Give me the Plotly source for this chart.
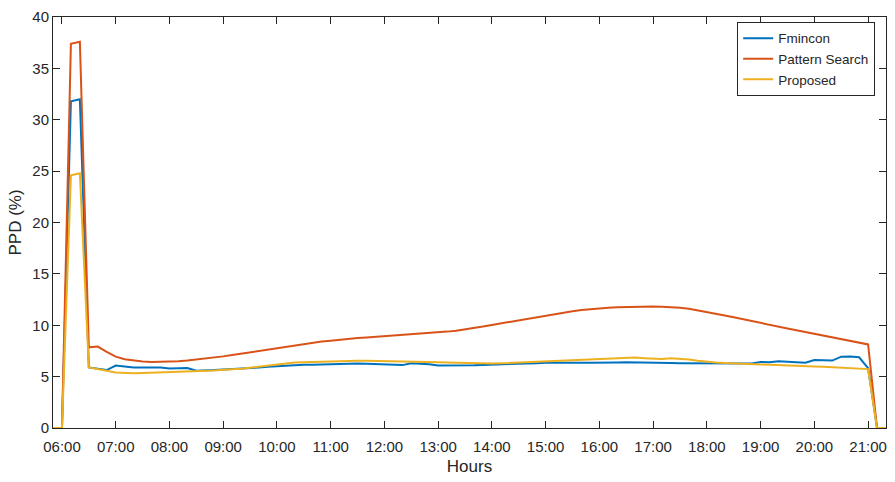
import pandas as pd
import plotly.graph_objects as go

start_time = "2021-01-01 05:50"
n_points = 94  # 10-minute samples, 05:50 .. 21:20

fmincon = [0, 0, 31.8, 32.0, 5.89, 5.76, 5.64, 6.08, 5.96, 5.88, 5.89, 5.89, 5.89, 5.8, 5.8, 5.83,
           5.57, 5.57, 5.64, 5.7, 5.73, 5.76, 5.83, 5.89, 5.96, 6.02, 6.08, 6.12, 6.15, 6.15, 6.18,
           6.21, 6.23, 6.25, 6.27, 6.25, 6.22, 6.2, 6.15, 6.12, 6.31, 6.28, 6.2, 6.08, 6.07, 6.07,
           6.08, 6.1, 6.14, 6.18, 6.2, 6.22, 6.24, 6.28, 6.31, 6.34, 6.36, 6.37, 6.37, 6.36, 6.35,
           6.34, 6.36, 6.38, 6.4, 6.4, 6.38, 6.37, 6.35, 6.33, 6.31, 6.3, 6.28, 6.27, 6.27, 6.27,
           6.27, 6.3, 6.27, 6.43, 6.4, 6.5, 6.46, 6.42, 6.36, 6.62, 6.62, 6.56, 6.94, 6.95, 6.88,
           5.83, 0, 0]

pattern_search = [0, 0, 37.4, 37.6, 7.85, 7.93, 7.42, 6.95, 6.7, 6.55, 6.47, 6.43, 6.43, 6.46, 6.5,
                  6.56, 6.65, 6.75, 6.86, 6.97, 7.1, 7.23, 7.36, 7.5, 7.64, 7.78, 7.92, 8.05, 8.2,
                  8.32, 8.42, 8.5, 8.6, 8.68, 8.75, 8.8, 8.86, 8.92, 8.98, 9.03, 9.1, 9.16, 9.23,
                  9.3, 9.38, 9.47, 9.58, 9.72, 9.87, 10.03, 10.18, 10.33, 10.48, 10.64, 10.8, 10.96,
                  11.1, 11.24, 11.37, 11.48, 11.58, 11.65, 11.71, 11.76, 11.79, 11.81, 11.82, 11.82,
                  11.8, 11.76, 11.7, 11.6, 11.45, 11.26, 11.1, 10.94, 10.77, 10.58, 10.39, 10.2,
                  10.03, 9.86, 9.69, 9.52, 9.35, 9.18, 9.02, 8.86, 8.7, 8.52, 8.33, 8.13, 0, 0]

proposed = [0, 0, 24.6, 24.8, 5.89, 5.76, 5.57, 5.41, 5.35, 5.32, 5.35, 5.38, 5.41, 5.44, 5.44, 5.48,
            5.51, 5.54, 5.6, 5.67, 5.7, 5.76, 5.86, 5.96, 6.08, 6.21, 6.31, 6.37, 6.4, 6.43, 6.47,
            6.5, 6.52, 6.53, 6.54, 6.54, 6.53, 6.53, 6.52, 6.5, 6.48, 6.45, 6.42, 6.4, 6.37, 6.34,
            6.32, 6.3, 6.28, 6.27, 6.29, 6.33, 6.37, 6.41, 6.44, 6.47, 6.52, 6.57, 6.62, 6.66, 6.7,
            6.72, 6.76, 6.8, 6.85, 6.85, 6.8, 6.75, 6.72, 6.8, 6.76, 6.66, 6.55, 6.43, 6.37, 6.32,
            6.27, 6.24, 6.21, 6.18, 6.16, 6.14, 6.12, 6.08, 6.04, 5.99, 5.95, 5.9, 5.86, 5.82, 5.78,
            5.73, 0, 0]

series_names = ["Fmincon", "Pattern Search", "Proposed"]
series_colors = ["#0072BD", "#D95319", "#EDB120"]
y_ticks = [0, 5, 10, 15, 20, 25, 30, 35, 40]

times = pd.date_range(start_time, periods=n_points, freq="10min")

fig = go.Figure()
for name, vals, col in zip(series_names, [fmincon, pattern_search, proposed], series_colors):
    fig.add_trace(go.Scatter(x=times, y=vals, mode="lines", name=name,
                             line=dict(color=col, width=2)))

axis_col = "#262626"
fig.update_layout(
    width=895, height=482,
    margin=dict(l=53, r=8, t=10, b=54),
    paper_bgcolor="white", plot_bgcolor="white",
    font=dict(family="Liberation Sans, Arial, sans-serif", size=15, color=axis_col),
    legend=dict(x=0.987, y=0.988, xanchor="right", yanchor="top",
                bordercolor=axis_col, borderwidth=1, bgcolor="white",
                font=dict(size=13.5), tracegroupgap=0, itemwidth=30),
    showlegend=True,
)
fig.update_xaxes(
    range=[times[0], times[-1]],
    tickformat="%H:%M", dtick=3600000,
    tick0=pd.Timestamp("2021-01-01 06:00"),
    ticks="inside", ticklen=7, tickwidth=1, tickcolor=axis_col,
    showline=True, linecolor=axis_col, linewidth=1, mirror="ticks",
    showgrid=False, zeroline=False, layer="below traces",
    ticklabelstandoff=5,
    title=dict(text="Hours", font=dict(size=17), standoff=6),
    tickfont=dict(size=15),
)
fig.update_yaxes(
    range=[0, 40], tickvals=y_ticks,
    ticks="inside", ticklen=7, tickwidth=1, tickcolor=axis_col,
    showline=True, linecolor=axis_col, linewidth=1, mirror="ticks",
    showgrid=False, zeroline=False, layer="below traces",
    title=dict(text="PPD (%)", font=dict(size=17), standoff=6),
    tickfont=dict(size=15),
)

fig.write_html("out.html")
